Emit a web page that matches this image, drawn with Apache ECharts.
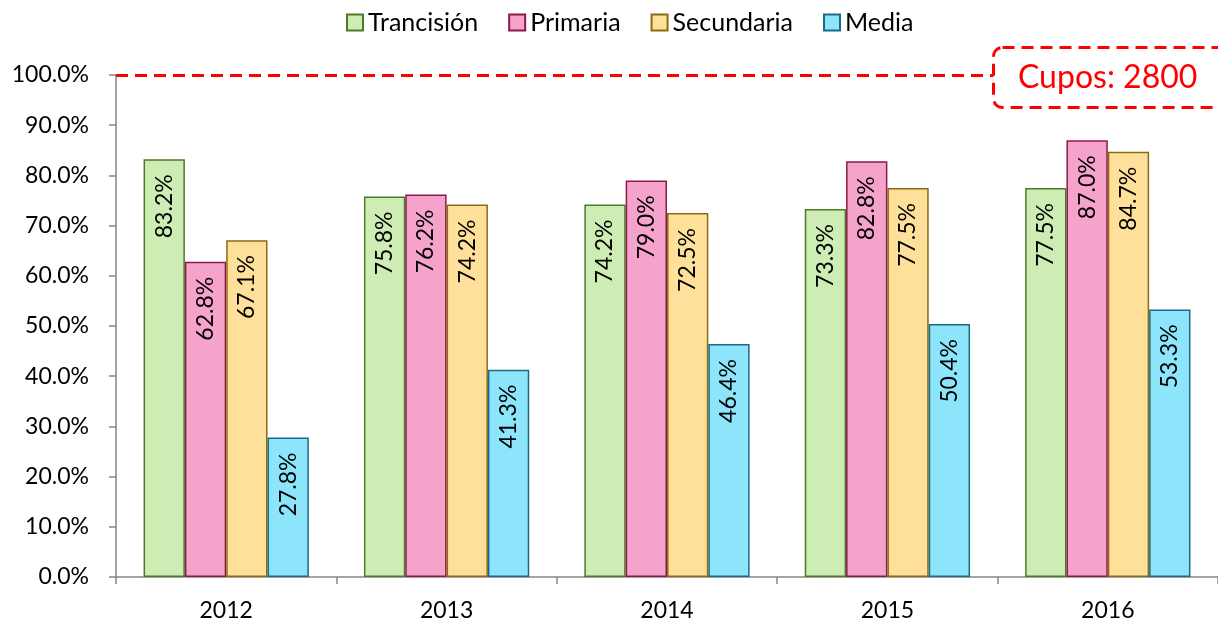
<!DOCTYPE html>
<html><head><meta charset="utf-8">
<script src="https://cdn.jsdelivr.net/npm/echarts@6/dist/echarts.min.js"></script>
<style>html,body{margin:0;padding:0;background:#fff}#c{width:1218px;height:622px}</style>
</head><body><div id="c"></div>
<script>
const categories = ['2012','2013','2014','2015','2016'];
const seriesNames = ['Trancisión','Primaria','Secundaria','Media'];
const trancision = [83.2, 75.8, 74.2, 73.3, 77.5];
const primaria = [62.8, 76.2, 79.0, 82.8, 87.0];
const secundaria = [67.1, 74.2, 72.5, 77.5, 84.7];
const media = [27.8, 41.3, 46.4, 50.4, 53.3];
const capacityLine = 100;
const capacityText = 'Cupos: 2800';

const fills = ['#CDEDB4','#F6A3CB','#FFE09A','#8CE5FB'];
const borders = ['#4E7A27','#8A1A4A','#8C6A10','#1D6A84'];
const FONT = 'Lato';
const dataSets = [trancision, primaria, secundaria, media];

const chart = echarts.init(document.getElementById('c'));
const series = dataSets.map((d, i) => ({
  name: seriesNames[i], type: 'bar', data: d,
  barGap: '0%', barCategoryGap: '25%',
  itemStyle: {color: fills[i], borderColor: borders[i], borderWidth: 1.5},
  label: {show: true, position: 'insideTop', rotate: 90, align: 'right', verticalAlign: 'middle',
    distance: 15, fontFamily: FONT, fontSize: 23, color: '#000',
    formatter: p => p.value.toFixed(1) + '%'},
  markLine: i === 0 ? {symbol: 'none', silent: true, label: {show: false},
    lineStyle: {color: '#FF0000', type: [12, 7], width: 3},
    data: [{yAxis: capacityLine}]} : undefined
}));

chart.setOption({
  animation: false,
  textStyle: {fontFamily: FONT},
  legend: {top: 5, left: 341, itemWidth: 16, itemHeight: 16, itemGap: 30,
    textStyle: {fontFamily: FONT, fontSize: 25, color: '#000'},
    data: seriesNames.map((n, i) => ({name: n, icon: 'rect',
      itemStyle: {color: fills[i], borderColor: borders[i], borderWidth: 2}}))},
  grid: {left: 116, right: -3, top: 75, bottom: 45, containLabel: false},
  xAxis: {type: 'category', data: categories,
    axisLine: {lineStyle: {color: '#868686', width: 1.5}},
    axisTick: {show: true, length: 7, lineStyle: {color: '#868686', width: 1.5}},
    axisLabel: {fontFamily: FONT, fontSize: 23, color: '#000', margin: 22}},
  yAxis: {type: 'value', min: 0, max: 100, interval: 10,
    axisLine: {show: true, lineStyle: {color: '#868686', width: 1.5}},
    axisTick: {show: true, length: 7, lineStyle: {color: '#868686', width: 1.5}},
    splitLine: {show: false},
    axisLabel: {fontFamily: FONT, fontSize: 23, color: '#000', margin: 27,
      formatter: v => v.toFixed(1) + '%'}},
  series: series,
  graphic: [{type: 'rect', left: 992, top: 46, z: 100,
    shape: {width: 240, height: 60, r: 9},
    style: {fill: '#fff', stroke: '#FF0000', lineWidth: 3, lineDash: [12, 7]}},
    {type: 'text', x: 1018, y: 78, z: 101,
     style: {text: capacityText, fill: '#FF0000', fontFamily: FONT, fontSize: 32,
       textVerticalAlign: 'middle', verticalAlign: 'middle'}}]
});
</script></body></html>
